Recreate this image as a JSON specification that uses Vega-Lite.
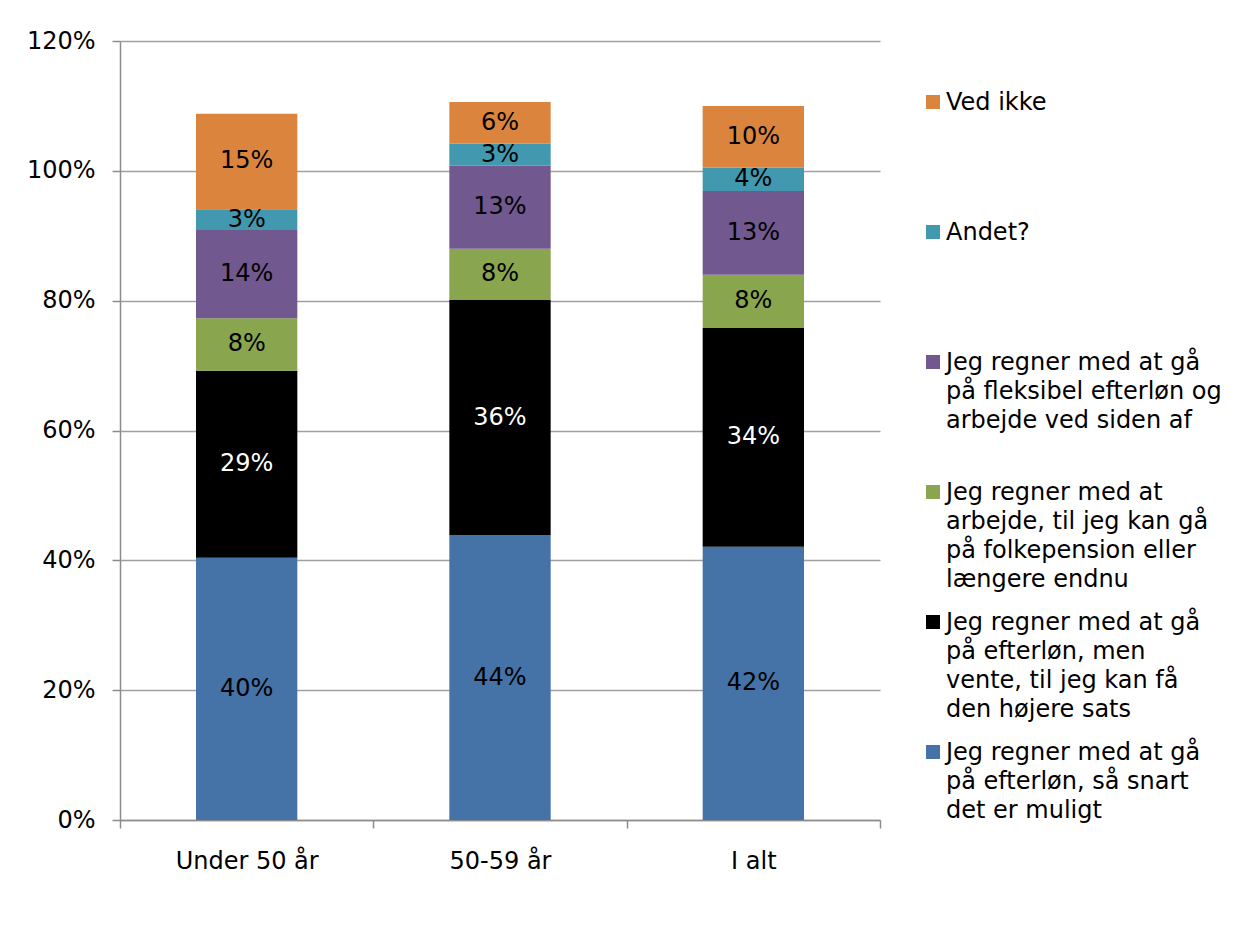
{
  "$schema": "https://vega.github.io/schema/vega-lite/v6.json",
  "width": 760,
  "height": 779,
  "autosize": {"type": "none"},
  "padding": {"left": 120, "top": 41, "right": 378, "bottom": 107},
  "background": "white",
  "config": {
    "font": "DejaVu Sans",
    "view": {"stroke": null},
    "axis": {"labelFont": "DejaVu Sans", "labelFontSize": 24, "labelColor": "#000000", "titleFont": "DejaVu Sans"},
    "legend": {"labelFont": "DejaVu Sans", "labelFontSize": 24, "labelColor": "#000000"}
  },
  "data": {
    "values": [
      {"group": "Under 50 år", "s": "Jeg regner med at gå på efterløn, så snart det er muligt", "v": 0.404},
      {"group": "Under 50 år", "s": "Jeg regner med at gå på efterløn, men vente, til jeg kan få den højere sats", "v": 0.288},
      {"group": "Under 50 år", "s": "Jeg regner med at arbejde, til jeg kan gå på folkepension eller længere endnu", "v": 0.081},
      {"group": "Under 50 år", "s": "Jeg regner med at gå på fleksibel efterløn og arbejde ved siden af", "v": 0.136},
      {"group": "Under 50 år", "s": "Andet?", "v": 0.032},
      {"group": "Under 50 år", "s": "Ved ikke", "v": 0.147},
      {"group": "50-59 år", "s": "Jeg regner med at gå på efterløn, så snart det er muligt", "v": 0.439},
      {"group": "50-59 år", "s": "Jeg regner med at gå på efterløn, men vente, til jeg kan få den højere sats", "v": 0.362},
      {"group": "50-59 år", "s": "Jeg regner med at arbejde, til jeg kan gå på folkepension eller længere endnu", "v": 0.079},
      {"group": "50-59 år", "s": "Jeg regner med at gå på fleksibel efterløn og arbejde ved siden af", "v": 0.128},
      {"group": "50-59 år", "s": "Andet?", "v": 0.034},
      {"group": "50-59 år", "s": "Ved ikke", "v": 0.064},
      {"group": "I alt", "s": "Jeg regner med at gå på efterløn, så snart det er muligt", "v": 0.421},
      {"group": "I alt", "s": "Jeg regner med at gå på efterløn, men vente, til jeg kan få den højere sats", "v": 0.337},
      {"group": "I alt", "s": "Jeg regner med at arbejde, til jeg kan gå på folkepension eller længere endnu", "v": 0.082},
      {"group": "I alt", "s": "Jeg regner med at gå på fleksibel efterløn og arbejde ved siden af", "v": 0.129},
      {"group": "I alt", "s": "Andet?", "v": 0.036},
      {"group": "I alt", "s": "Ved ikke", "v": 0.095}
    ]
  },
  "transform": [
    {"calculate": "indexof(['Jeg regner med at gå på efterløn, så snart det er muligt','Jeg regner med at gå på efterløn, men vente, til jeg kan få den højere sats','Jeg regner med at arbejde, til jeg kan gå på folkepension eller længere endnu','Jeg regner med at gå på fleksibel efterløn og arbejde ved siden af','Andet?','Ved ikke'], datum.s)", "as": "ord"},
    {"stack": "v", "groupby": ["group"], "sort": [{"field": "ord", "order": "ascending"}], "as": ["v0", "v1"]},
    {"calculate": "(datum.v0 + datum.v1) / 2", "as": "mid"}
  ],
  "encoding": {
    "x": {
      "field": "group",
      "type": "nominal",
      "sort": ["Under 50 år", "50-59 år", "I alt"],
      "scale": {"paddingInner": 0, "paddingOuter": 0},
      "axis": {
        "title": null,
        "labelAngle": 0,
        "ticks": true,
        "tickBand": "extent",
        "tickSize": 8,
        "tickColor": "#8c8c8c",
        "tickWidth": 1.5,
        "domain": true,
        "domainColor": "#8c8c8c",
        "domainWidth": 1.5,
        "labelPadding": 21,
        "labelBaseline": "top"
      }
    }
  },
  "layer": [
    {
      "mark": {"type": "bar", "width": {"band": 0.4}},
      "encoding": {
        "y": {
          "field": "v0",
          "type": "quantitative",
          "scale": {"domain": [0, 1.2], "nice": false},
          "axis": {
            "title": null,
            "values": [0, 0.2, 0.4, 0.6, 0.8, 1.0, 1.2],
            "format": ".0%",
            "grid": true,
            "gridColor": "#a0a0a0",
            "gridWidth": 1.5,
            "domainColor": "#8c8c8c",
            "domainWidth": 1.5,
            "tickColor": "#8c8c8c",
            "tickWidth": 1.5,
            "tickSize": 8,
            "labelPadding": 17
          }
        },
        "y2": {"field": "v1"},
        "color": {
          "field": "s",
          "type": "nominal",
          "scale": {
            "domain": ["Ved ikke", "Andet?", "Jeg regner med at gå på fleksibel efterløn og arbejde ved siden af", "Jeg regner med at arbejde, til jeg kan gå på folkepension eller længere endnu", "Jeg regner med at gå på efterløn, men vente, til jeg kan få den højere sats", "Jeg regner med at gå på efterløn, så snart det er muligt"],
            "range": ["#DB843D", "#4198AF", "#71588F", "#89A54E", "#000000", "#4572A7"]
          },
          "legend": {
            "title": null,
            "orient": "none",
            "legendX": 801,
            "legendY": 49,
            "padding": 0,
            "direction": "vertical",
            "columns": 1,
            "gridAlign": "all",
            "rowPadding": 18,
            "symbolType": "square",
            "symbolSize": 196,
            "symbolStrokeWidth": 0,
            "symbolOpacity": 1,
            "labelOffset": 1,
            "labelLimit": 400,
            "labelBaseline": "top",
            "labelExpr": "datum.label == 'Jeg regner med at gå på fleksibel efterløn og arbejde ved siden af' ? ['Jeg regner med at gå', 'på fleksibel efterløn og', 'arbejde ved siden af'] : datum.label == 'Jeg regner med at arbejde, til jeg kan gå på folkepension eller længere endnu' ? ['Jeg regner med at', 'arbejde, til jeg kan gå', 'på folkepension eller', 'længere endnu'] : datum.label == 'Jeg regner med at gå på efterløn, men vente, til jeg kan få den højere sats' ? ['Jeg regner med at gå', 'på efterløn, men', 'vente, til jeg kan få', 'den højere sats'] : datum.label == 'Jeg regner med at gå på efterløn, så snart det er muligt' ? ['Jeg regner med at gå', 'på efterløn, så snart', 'det er muligt'] : datum.label",
            "encode": {"labels": {"update": {"lineHeight": {"value": 29}, "dy": {"value": -11}}}}
          }
        }
      }
    },
    {
      "mark": {"type": "text", "fontSize": 24, "font": "DejaVu Sans", "baseline": "middle", "align": "center"},
      "encoding": {
        "y": {"field": "mid", "type": "quantitative"},
        "text": {"field": "v", "type": "quantitative", "format": ".0%"},
        "color": {
          "condition": {"test": "datum.s == 'Jeg regner med at gå på efterløn, men vente, til jeg kan få den højere sats'", "value": "#ffffff"},
          "value": "#000000"
        }
      }
    }
  ]
}
